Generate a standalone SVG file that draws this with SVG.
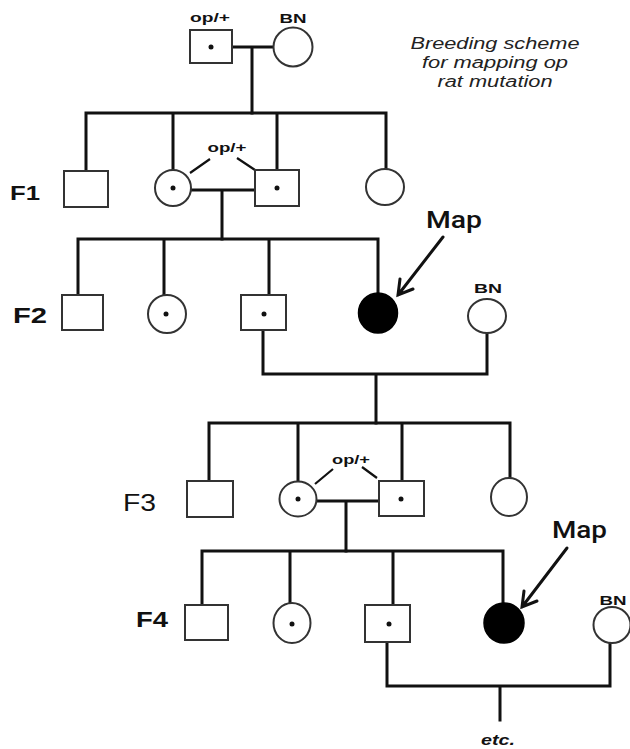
<svg xmlns="http://www.w3.org/2000/svg" width="630" height="749" viewBox="0 0 630 749">
<style>
.sh{fill:#fff;stroke:#333;stroke-width:2}
.fill{fill:#000;stroke:#000;stroke-width:1.5}
.dot{fill:#111}
.cn{fill:none;stroke:#111;stroke-width:3;stroke-linejoin:miter;stroke-linecap:square}
.tk{fill:none;stroke:#111;stroke-width:2.2}
.ar{fill:none;stroke:#111;stroke-width:3;stroke-linecap:round;stroke-linejoin:miter}
.lbl{font-family:"Liberation Sans",Arial,sans-serif;fill:#111}
.gen{font-family:"Liberation Sans",Arial,sans-serif;font-weight:bold;fill:#111}
.map{font-family:Roboto,"Liberation Sans",sans-serif;font-weight:500;font-size:24px;fill:#111}
.small{font-family:"Liberation Sans",Arial,sans-serif;font-weight:bold;font-size:13px;fill:#111;text-anchor:middle}
.title{font-family:"Liberation Sans",Arial,sans-serif;font-style:italic;font-size:16px;fill:#222;text-anchor:middle}
</style>
<rect width="630" height="749" fill="#fff"/>
<g id="connectors">
<path class="cn" d="M232 47H274M252 47V113"/>
<path class="cn" d="M86 113H386M86 113V171M173 113V170M277 113V170M386 113V169"/>
<path class="cn" d="M191 190H255M222 190V239"/>
<path class="cn" d="M78 239H378M78 239V295M164 239V295M269 239V295M378 239V293"/>
<path class="cn" d="M263 330V374H487V333M376 374V423"/>
<path class="cn" d="M209 423H510M209 423V481M298 423V481M402 423V481M510 423V478"/>
<path class="cn" d="M316 501H379M346 501V551"/>
<path class="cn" d="M202 551H503M202 551V605M290 551V603M393 551V605M503 551V603"/>
<path class="cn" d="M387 642V686H610V643M500 686V720"/>
<path class="tk" d="M190 173L210 159M237 158L255 170"/>
<path class="tk" d="M315 484L333 469M362 467L377 478"/>
<path class="ar" d="M443 237L398 295M400 279L398 295L413 289"/>
<path class="ar" d="M567 548L522 607M524 591L522 607L537 601"/>
</g>
<g id="P_op">
<rect class="sh" x="190" y="30" width="42" height="33"/><circle class="dot" cx="211" cy="47" r="2.5"/>
<text class="small" x="210" y="22" textLength="40" lengthAdjust="spacingAndGlyphs">op/+</text>
</g>
<g id="P_BN">
<ellipse class="sh" cx="293" cy="47" rx="19.5" ry="19.5"/>
<text class="small" x="293" y="23" textLength="27" lengthAdjust="spacingAndGlyphs">BN</text>
</g>
<g id="title">
<text class="title" x="495" y="49" textLength="169" lengthAdjust="spacingAndGlyphs">Breeding scheme</text>
<text class="title" x="495" y="68" textLength="146" lengthAdjust="spacingAndGlyphs">for mapping op</text>
<text class="title" x="495" y="87" textLength="115" lengthAdjust="spacingAndGlyphs">rat mutation</text>
</g>
<g id="F1_label"><text class="gen" x="10" y="200" font-size="21" textLength="30" lengthAdjust="spacingAndGlyphs">F1</text></g>
<g id="F1_m1"><rect class="sh" x="64" y="171" width="44" height="36"/></g>
<g id="F1_f1"><ellipse class="sh" cx="173" cy="188" rx="18" ry="18"/><circle class="dot" cx="173" cy="188" r="2.5"/></g>
<g id="F1_m2"><rect class="sh" x="255" y="170" width="44" height="36"/><circle class="dot" cx="277" cy="188" r="2.5"/></g>
<g id="F1_f2"><ellipse class="sh" cx="385" cy="187" rx="19" ry="18"/></g>
<g id="F1_oplabel"><text class="small" x="227" y="152" textLength="39" lengthAdjust="spacingAndGlyphs">op/+</text></g>
<g id="F2_label"><text class="gen" x="13" y="323" font-size="22" textLength="34" lengthAdjust="spacingAndGlyphs">F2</text></g>
<g id="F2_m1"><rect class="sh" x="62" y="295" width="41" height="35"/></g>
<g id="F2_f1"><ellipse class="sh" cx="167" cy="314" rx="19" ry="19"/><circle class="dot" cx="166" cy="314" r="2.5"/></g>
<g id="F2_m2"><rect class="sh" x="241" y="295" width="45" height="35"/><circle class="dot" cx="264" cy="314" r="2.5"/></g>
<g id="F2_map"><ellipse class="fill" cx="378" cy="313" rx="19.5" ry="20"/></g>
<g id="F2_BN"><ellipse class="sh" cx="487" cy="316" rx="19" ry="17"/>
<text class="small" x="488" y="293" textLength="28" lengthAdjust="spacingAndGlyphs">BN</text></g>
<g id="Map1"><text class="map" x="426" y="228" textLength="56" lengthAdjust="spacingAndGlyphs">Map</text></g>
<g id="F3_label"><text class="lbl" x="123" y="511" font-size="23" textLength="33" lengthAdjust="spacingAndGlyphs">F3</text></g>
<g id="F3_m1"><rect class="sh" x="187" y="481" width="46" height="36"/></g>
<g id="F3_f1"><ellipse class="sh" cx="298" cy="499" rx="18.5" ry="17.5"/><circle class="dot" cx="298" cy="499" r="2.5"/></g>
<g id="F3_m2"><rect class="sh" x="379" y="481" width="45" height="35"/><circle class="dot" cx="401" cy="499" r="2.5"/></g>
<g id="F3_f2"><ellipse class="sh" cx="509" cy="497" rx="18" ry="19"/></g>
<g id="F3_oplabel"><text class="small" x="351" y="464" textLength="38" lengthAdjust="spacingAndGlyphs">op/+</text></g>
<g id="F4_label"><text class="gen" x="136" y="627" font-size="22" textLength="32" lengthAdjust="spacingAndGlyphs">F4</text></g>
<g id="F4_m1"><rect class="sh" x="185" y="605" width="43" height="35"/></g>
<g id="F4_f1"><ellipse class="sh" cx="292" cy="623" rx="18.5" ry="20"/><circle class="dot" cx="292" cy="624" r="2.5"/></g>
<g id="F4_m2"><rect class="sh" x="365" y="605" width="45" height="37"/><circle class="dot" cx="389" cy="624" r="2.5"/></g>
<g id="F4_map"><ellipse class="fill" cx="504" cy="623" rx="20" ry="20"/></g>
<g id="F4_BN"><ellipse class="sh" cx="612" cy="625" rx="18.5" ry="18"/>
<text class="small" x="613" y="605" textLength="27" lengthAdjust="spacingAndGlyphs">BN</text></g>
<g id="Map2"><text class="map" x="552" y="538" textLength="55" lengthAdjust="spacingAndGlyphs">Map</text></g>
<g id="etc"><text class="gen" x="498" y="745" font-size="15" font-style="italic" text-anchor="middle" textLength="34" lengthAdjust="spacingAndGlyphs">etc.</text></g>
</svg>
